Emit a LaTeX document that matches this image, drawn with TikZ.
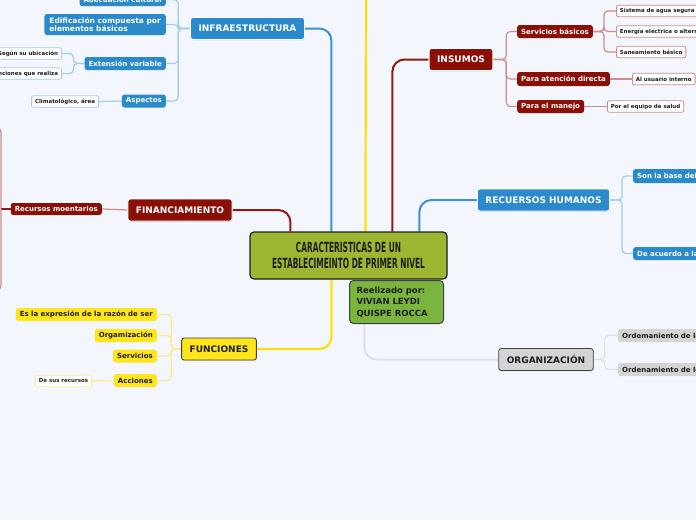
\documentclass[tikz,border=0pt]{standalone}
\usepackage{fontspec}
\setmainfont{DejaVu Sans}
\newfontfamily\titlefont[FakeStretch=0.53]{DejaVu Sans}
\usetikzlibrary{shadows}
\pgfdeclarelayer{bg}
\pgfsetlayers{bg,main}
\definecolor{bgc}{HTML}{F3F6FD}
\definecolor{bluem}{HTML}{2B8ACB}
\definecolor{bluec}{HTML}{3A93D6}
\definecolor{bluel}{HTML}{A3CBEB}
\definecolor{redm}{HTML}{8A0F06}
\definecolor{redc}{HTML}{8E1A12}
\definecolor{redl}{HTML}{CF8C8C}
\definecolor{yelm}{HTML}{FFE51C}
\definecolor{yelc}{HTML}{FFDF0A}
\definecolor{yell}{HTML}{FFEB8F}
\definecolor{graym}{HTML}{D4D4D4}
\definecolor{grayl}{HTML}{DDE0E6}
\definecolor{olive}{HTML}{9EB733}
\definecolor{leaf}{HTML}{7AB53D}
\definecolor{ink}{HTML}{1E1E1E}
\begin{document}
\begin{tikzpicture}[x=1pt,y=-1pt,
  box/.style={rounded corners=2.5pt, inner ysep=0pt, align=center},
  mainb/.style={box, inner xsep=8pt, minimum height=22pt, font=\bfseries\fontsize{9}{10}\selectfont,
     draw=white, line width=0.8pt, drop shadow={opacity=0.25,shadow xshift=0.6pt,shadow yshift=-0.8pt}},
  blueb/.style={mainb, fill=bluem, text=white},
  redb/.style={mainb, fill=redm, text=white},
  yelb/.style={mainb, fill=yelm, text=ink, draw=ink!85},
  grayb/.style={mainb, fill=graym, text=ink, draw=ink!85},
  subb/.style={box, inner xsep=4pt, minimum height=13pt, font=\bfseries\fontsize{7}{8.7}\selectfont},
  bsub/.style={subb, fill=bluem, text=white},
  rsub/.style={subb, fill=redm, text=white},
  ysub/.style={subb, fill=yelm, text=ink},
  gsub/.style={subb, fill=graym, text=ink},
  leafb/.style={box, rounded corners=2pt, inner xsep=3.5pt, minimum height=11.5pt, fill=white,
     font=\bfseries\fontsize{5.5}{6.5}\selectfont, text=ink, line width=0.8pt},
  bleaf/.style={leafb, draw=bluel},
  rleaf/.style={leafb, draw=redl},
  yleaf/.style={leafb, draw=yell},
  bcon/.style={draw=bluec, line width=2pt, rounded corners=12pt},
  rcon/.style={draw=redc, line width=2pt, rounded corners=12pt},
  ycon/.style={draw=yelc, line width=2.2pt, rounded corners=12pt},
  gcon/.style={draw=grayl, line width=2pt, rounded corners=12pt},
  bbr/.style={draw=bluel, line width=1.2pt, rounded corners=4pt},
  rbr/.style={draw=redl, line width=1.2pt, rounded corners=4pt},
  ybr/.style={draw=yell, line width=1.2pt, rounded corners=4pt},
  gbr/.style={draw=grayl, line width=1.2pt, rounded corners=4pt}
]
\useasboundingbox (0,0) rectangle (696,520);
\clip (0,0) rectangle (696,520);

% centre
\node[box, rounded corners=4pt, fill=olive, draw=ink, line width=1.2pt, minimum width=197pt, minimum height=47pt,
      text=ink, font=\titlefont\bfseries\fontsize{14}{16}\selectfont] (cen) at (348.5,255.5)
      {CARACTERISTICAS DE UN\\ESTABLECIMEINTO DE PRIMER NIVEL};
\node[box, anchor=north west, rounded corners=4pt, fill=leaf, draw=ink!85, line width=1pt, inner xsep=7pt,
      text width=80pt, align=left, minimum height=43pt, text=ink, font=\bfseries\fontsize{8.5}{11.5}\selectfont]
      (real) at (349,280) {Reelizado por:\\VIVIAN LEYDI\\QUISPE ROCCA};

% main topics
\node[blueb] (infra) at (247.5,28.5) {INFRAESTRUCTURA};
\node[redb] (fin) at (180,210) {FINANCIAMIENTO};
\node[yelb] (fun) at (219,349) {FUNCIONES};
\node[redb] (ins) at (461,59.5) {INSUMOS};
\node[blueb] (rh) at (543.5,200) {RECUERSOS HUMANOS};
\node[grayb] (org) at (546,359.5) {ORGANIZACIÓN};

% infraestructura
\node[bsub, anchor=east] (adec) at (166,-0.5) {Adecuación cultural};
\node[bsub, anchor=east, align=left, minimum height=21pt, inner xsep=5pt, font=\bfseries\fontsize{7.5}{8.7}\selectfont] (edif) at (166,24.5) {Edificación compuesta por\\elementos básicos};
\node[bsub, anchor=east] (ext) at (166,63.5) {Extensión variable};
\node[bsub, anchor=east] (asp) at (166,101) {Aspectos};
\node[bleaf, anchor=east] (ubi) at (62,53.5) {Según su ubicación};
\node[bleaf, anchor=east] (funr) at (62,73.5) {Funciones que realiza};
\node[bleaf, anchor=east] (clim) at (99,101.5) {Climatológico, área};

% financiamiento
\node[rsub, anchor=east, minimum height=12pt] (recm) at (102,209) {Recursos moentarios};
\coordinate (rbar) at (1,209);
\coordinate (ro1) at (-12,128);
\coordinate (ro2) at (-12,290);

% funciones
\node[ysub, anchor=east] (f1) at (157,314.5) {Es la expresión de la razón de ser};
\node[ysub, anchor=east] (f2) at (157,335.5) {Orgamización};
\node[ysub, anchor=east] (f3) at (157,356) {Servicios};
\node[ysub, anchor=east] (f4) at (157,380.5) {Acciones};
\node[yleaf, anchor=east] (dsr) at (92,381) {De sus recursos};

% insumos
\node[rsub, anchor=west] (sb) at (517,31.5) {Servicios básicos};
\node[rsub, anchor=west, minimum height=14pt] (pad) at (517,79) {Para atención directa};
\node[rsub, anchor=west] (pem) at (517,106.5) {Para el manejo};
\node[rleaf, anchor=west, text width=90pt, align=left] (s1) at (616,11) {Sistema de agua segura};
\node[rleaf, anchor=west, text width=90pt, align=left] (s2) at (616,31.5) {Energía eléctrica o altern};
\node[rleaf, anchor=west] (s3) at (616,52) {Saneamiento básico};
\node[rleaf, anchor=west] (aui) at (632,79) {Al usuario interno};
\node[rleaf, anchor=west] (peq) at (607,106.5) {Por el equipo de salud};

% recursos humanos
\node[bsub, anchor=west, text width=90pt, align=left, minimum height=14pt] (rh1) at (633,176) {Son la base del};
\node[bsub, anchor=west, text width=90pt, align=left] (rh2) at (633,253.5) {De acuerdo a la};

% organizacion
\node[gsub, anchor=west, text width=90pt, align=left] (o1) at (618,335.5) {Ordemaniento de la};
\node[gsub, anchor=west, text width=90pt, align=left] (o2) at (618,369.5) {Ordenamiento de lo};

\coordinate (topy) at (366,-5);

\begin{pgfonlayer}{bg}
\clip (0,0) rectangle (696,520);
\fill[bgc] (0,0) rectangle (696,520);
\draw[bcon] (infra.east) -| ([xshift=82pt]cen.north west);
\draw[rcon] (fin.east) -| ([xshift=41pt]cen.north west);
\draw[rcon] (ins.west) -| ([xshift=143pt]cen.north west);
\draw[bcon] (rh.west) -| ([xshift=170pt]cen.north west);
\draw[ycon] ([xshift=116pt]cen.north west) -- (topy);
\draw[ycon] (fun.east) -| ([xshift=82pt]cen.south west);
\draw[gcon] (org.west) -| ([xshift=115pt]cen.south west);

\foreach \c in {adec,edif,ext,asp} \draw[bbr] (infra.west) -- ++(-12,0) |- (\c.east);
\foreach \c in {ubi,funr} \draw[bbr] (ext.west) -- ++(-11,0) |- (\c.east);
\draw[bbr] (asp.west) -- (clim.east);

\draw[rbr] (fin.west) -- (recm.east);
\draw[draw=redc, line width=1.2pt] (recm.west) -- (rbar);
\draw[rbr] (ro1) -| (rbar) |- (ro2);

\foreach \c in {f1,f2,f3,f4} \draw[ybr] (fun.west) -- ++(-10,0) |- (\c.east);
\draw[ybr] (f4.west) -- (dsr.east);

\foreach \c in {sb,pad,pem} \draw[rbr] (ins.east) -- ++(13,0) |- (\c.west);
\foreach \c in {s1,s2,s3} \draw[rbr] (sb.east) -- ++(11,0) |- (\c.west);
\draw[rbr] (pad.east) -- (aui.west);
\draw[rbr] (pem.east) -- (peq.west);

\foreach \c in {rh1,rh2} \draw[bbr] (rh.east) -- ++(12,0) |- (\c.west);
\foreach \c in {o1,o2} \draw[gbr] (org.east) -- ++(11,0) |- (\c.west);
\end{pgfonlayer}
\end{tikzpicture}
\end{document}
